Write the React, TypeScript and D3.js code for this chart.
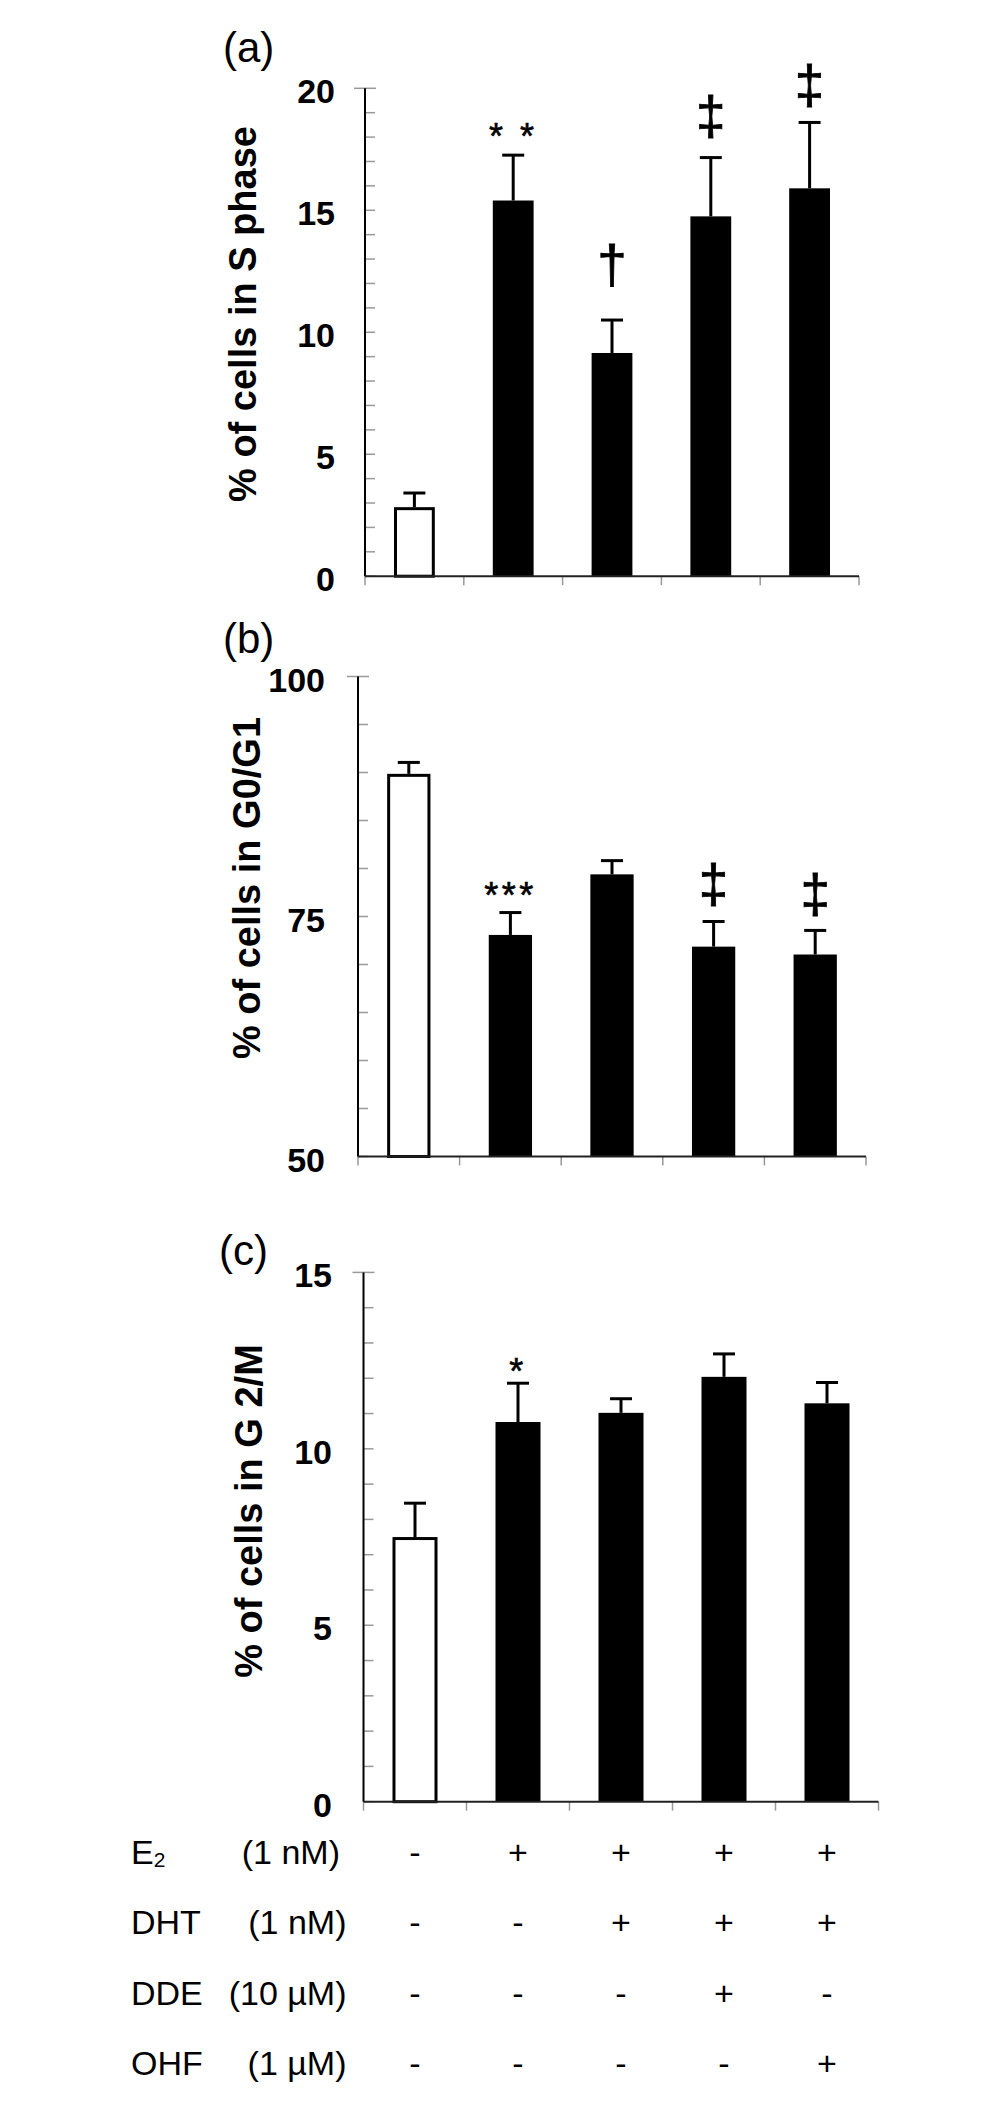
import React from 'react';
import * as d3 from 'd3';

const categories = ['Control', 'E2', 'E2+DHT', 'E2+DHT+DDE', 'E2+DHT+OHF'];

const sPhaseMean = [2.83, 15.4, 9.15, 14.75, 15.9];
const sPhaseErr = [0.58, 1.86, 1.35, 2.41, 2.7];
const sPhaseMarks = ['', '* *', '†', '‡', '‡'];
const sPhaseMarkAt = [0, 17.5, 12.0, 18.13, 19.4];
const sPhaseTicks = [0, 5, 10, 15, 20];

const g0g1Mean = [89.86, 73.08, 79.39, 71.86, 71.04];
const g0g1Err = [1.19, 2.33, 1.43, 2.62, 2.51];
const g0g1Marks = ['', '***', '', '‡', '‡'];
const g0g1MarkAt = [0, 75.87, 0, 76.53, 75.45];
const g0g1Ticks = [50, 75, 100];

const g2mMean = [7.5, 10.76, 11.02, 12.04, 11.29];
const g2mErr = [0.96, 1.1, 0.4, 0.65, 0.59];
const g2mMarks = ['', '*', '', '', ''];
const g2mMarkAt = [0, 11.84, 0, 0, 0];
const g2mTicks = [0, 5, 10, 15];

const treatmentNames = ['E', 'DHT', 'DDE', 'OHF'];
const treatmentSubs = ['2', '', '', ''];
const treatmentDoses = ['(1 nM)', '(1 nM)', '(10 µM)', '(1 µM)'];
const treatmentMatrix = [
  ['-', '+', '+', '+', '+'],
  ['-', '-', '+', '+', '+'],
  ['-', '-', '-', '+', '-'],
  ['-', '-', '-', '-', '+'],
];

const FONT = '"Liberation Sans", Arial, Helvetica, sans-serif';

type Cfg = {
  tag: string; tagX: number; tagY: number;
  label: string; labelX: number; labelY: number;
  left: number; right: number; top: number; bottom: number;
  domain: [number, number]; ticks: number[]; minorStep: number;
  barFrac: number; labelGap: number;
  mean: number[]; err: number[]; marks: string[]; markAt: number[];
};

const panels: Cfg[] = [
  {
    tag: '(a)', tagX: 223, tagY: 62,
    label: '% of cells in S phase', labelX: 256, labelY: 314,
    left: 365, right: 859, top: 88.3, bottom: 576.2,
    domain: [0, 20], ticks: sPhaseTicks, minorStep: 1, barFrac: 0.413, labelGap: 30,
    mean: sPhaseMean, err: sPhaseErr, marks: sPhaseMarks, markAt: sPhaseMarkAt,
  },
  {
    tag: '(b)', tagX: 223, tagY: 653,
    label: '% of cells in G0/G1', labelX: 260, labelY: 888,
    left: 358, right: 866, top: 676.5, bottom: 1156.5,
    domain: [50, 100], ticks: g0g1Ticks, minorStep: 5, barFrac: 0.426, labelGap: 33,
    mean: g0g1Mean, err: g0g1Err, marks: g0g1Marks, markAt: g0g1MarkAt,
  },
  {
    tag: '(c)', tagX: 219, tagY: 1265,
    label: '% of cells in G 2/M', labelX: 262, labelY: 1511,
    left: 363.5, right: 878.5, top: 1272.4, bottom: 1801.7,
    domain: [0, 15], ticks: g2mTicks, minorStep: 1, barFrac: 0.437, labelGap: 31.5,
    mean: g2mMean, err: g2mErr, marks: g2mMarks, markAt: g2mMarkAt,
  },
];

function Panel({ cfg }: { cfg: Cfg }) {
  const x = d3.scaleBand<string>().domain(categories).range([cfg.left, cfg.right]).padding(0);
  const y = d3.scaleLinear().domain(cfg.domain).range([cfg.bottom, cfg.top]);
  const minor = d3.range(cfg.domain[0], cfg.domain[1], cfg.minorStep);
  const bw = x.bandwidth() * cfg.barFrac;
  const base = y(cfg.domain[0]);
  const boundaries = [...categories.map((c) => x(c) as number), cfg.right];
  return (
    <g>
      <text x={cfg.tagX} y={cfg.tagY} fontFamily={FONT} fontSize={42} fill="#000">{cfg.tag}</text>
      <text
        transform={`translate(${cfg.labelX},${cfg.labelY}) rotate(-90)`}
        textAnchor="middle" fontFamily={FONT} fontSize={38} fontWeight="bold" fill="#000"
      >{cfg.label}</text>
      {minor.map((v) => (
        <line key={'m' + v} x1={cfg.left} x2={cfg.left + 10} y1={y(v)} y2={y(v)} stroke="#999" strokeWidth={1.5} />
      ))}
      <line x1={cfg.left - 11} x2={cfg.left + 11} y1={y(cfg.domain[1])} y2={y(cfg.domain[1])} stroke="#999" strokeWidth={1.5} />
      {cfg.ticks.map((v) => (
        <text key={'t' + v} x={cfg.left - cfg.labelGap} y={y(v) + 15} textAnchor="end"
          fontFamily={FONT} fontSize={34} fontWeight="bold" fill="#000">{v}</text>
      ))}
      {boundaries.map((bx, i) => (
        <line key={'xb' + i} x1={bx} x2={bx} y1={base} y2={base + 9} stroke="#999" strokeWidth={1.5} />
      ))}
      {categories.map((c, i) => {
        const cx = (x(c) as number) + x.bandwidth() / 2;
        const top = y(cfg.mean[i]);
        const et = y(cfg.mean[i] + cfg.err[i]);
        const white = i === 0;
        const isStar = cfg.marks[i].includes('*');
        return (
          <g key={c}>
            <line x1={cx} x2={cx} y1={top} y2={et} stroke="#000" strokeWidth={3} />
            <line x1={cx - 11} x2={cx + 11} y1={et} y2={et} stroke="#000" strokeWidth={3} />
            {white ? (
              <rect x={cx - bw / 2 + 1.5} y={top + 1.5} width={bw - 3} height={base - top - 1.5}
                fill="#fff" stroke="#000" strokeWidth={3} />
            ) : (
              <rect x={cx - bw / 2} y={top} width={bw} height={base - top} fill="#000" />
            )}
            {cfg.marks[i] ? (
              <text x={cx} y={y(cfg.markAt[i])} textAnchor="middle" fontFamily={FONT}
                fontSize={isStar ? 36 : 53}
                letterSpacing={isStar ? 3.5 : 0}
                stroke="#000" strokeWidth={isStar ? 0.6 : 0.8}
                style={{ whiteSpace: 'pre' }} fill="#000">{cfg.marks[i]}</text>
            ) : null}
          </g>
        );
      })}
      <line x1={cfg.left} x2={cfg.left} y1={y(cfg.domain[1])} y2={base} stroke="#000" strokeWidth={2} />
      <line x1={cfg.left} x2={cfg.right} y1={base} y2={base} stroke="#222" strokeWidth={2} />
    </g>
  );
}

function Table() {
  const c = panels[2];
  const x = d3.scaleBand<string>().domain(categories).range([c.left, c.right]).padding(0);
  const rowY = d3.scaleLinear().domain([0, 3]).range([1864, 2075]);
  return (
    <g fontFamily={FONT} fontSize={34} fill="#000">
      {treatmentNames.map((n, r) => (
        <g key={n}>
          <text x={131} y={rowY(r)}>
            {n}
            {treatmentSubs[r] ? <tspan fontSize={21} dy={3}>{treatmentSubs[r]}</tspan> : null}
          </text>
          <text x={r === 0 ? 340 : 346.5} y={rowY(r)} textAnchor="end">{treatmentDoses[r]}</text>
          {treatmentMatrix[r].map((s, i) => (
            <text key={i} x={(x(categories[i]) as number) + x.bandwidth() / 2} y={rowY(r)} textAnchor="middle">{s}</text>
          ))}
        </g>
      ))}
    </g>
  );
}

export default function App() {
  return (
    <svg width={1004} height={2108} style={{ position: 'absolute', left: 0, top: 0, display: 'block', background: '#fff' }}>
      <rect x={0} y={0} width={1004} height={2108} fill="#fff" />
      {panels.map((p) => <Panel key={p.tag} cfg={p} />)}
      <Table />
    </svg>
  );
}
